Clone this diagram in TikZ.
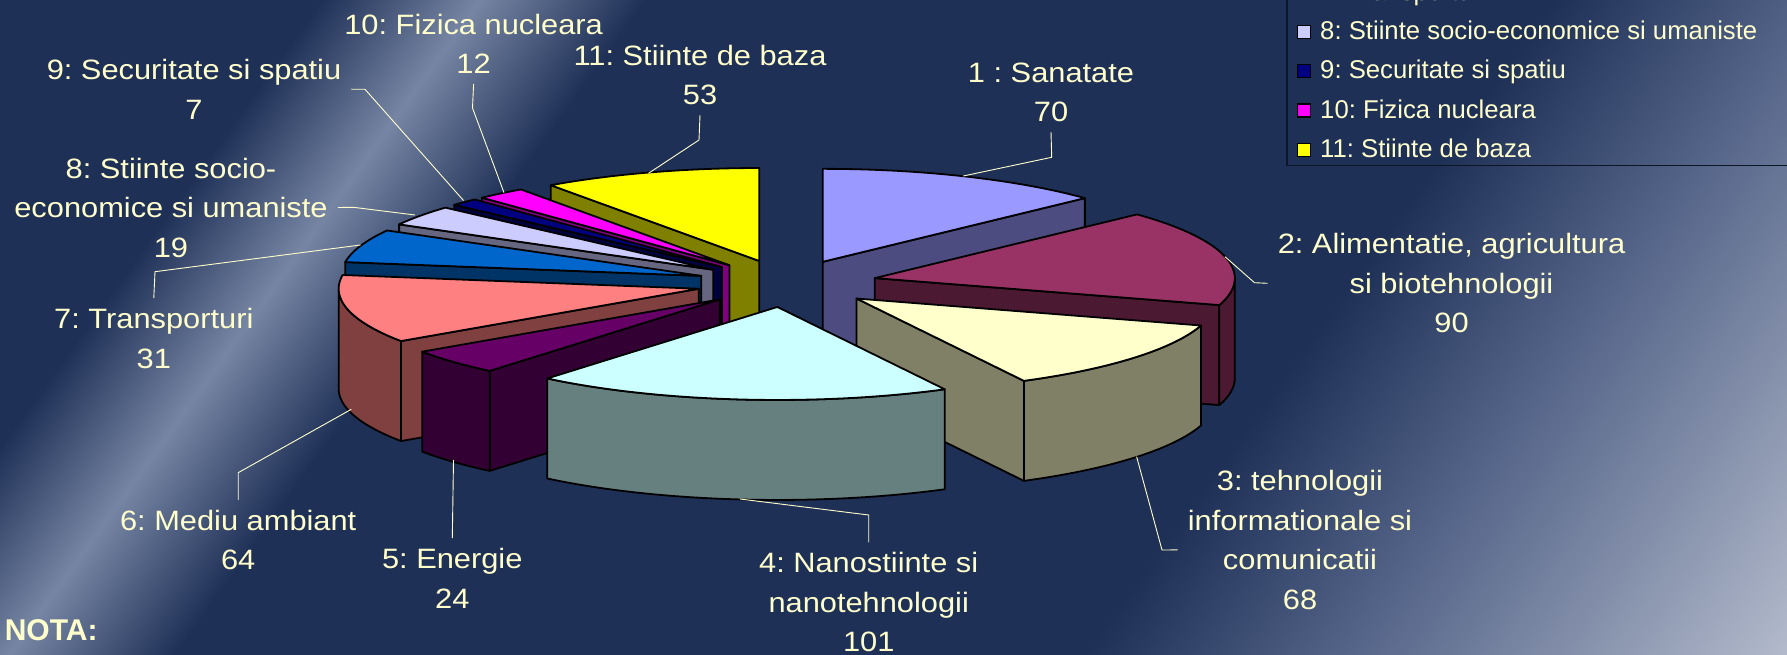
\documentclass[tikz,border=0pt]{standalone}
\usepackage{fontspec}
\setmainfont{Liberation Sans}
\newfontfamily\labelfont{Liberation Sans}[FakeStretch=1.1]
\usetikzlibrary{calc}
\frenchspacing

\definecolor{backblue}{HTML}{1F3057}
\definecolor{beam}{HTML}{7685A3}
\definecolor{glowmid}{HTML}{56668A}
\definecolor{glowend}{HTML}{B5BCCD}
\definecolor{labeltext}{HTML}{FFFFCC}
\definecolor{legendline}{HTML}{0E1526}
\definecolor{lavender}{HTML}{9999FF}
\definecolor{plum}{HTML}{993366}
\definecolor{ivory}{HTML}{FFFFCC}
\definecolor{paleturq}{HTML}{CCFFFF}
\definecolor{darkplum}{HTML}{660066}
\definecolor{salmon}{HTML}{FF8080}
\definecolor{ocean}{HTML}{0066CC}
\definecolor{periwinkle}{HTML}{CCCCFF}
\definecolor{navyblue}{HTML}{000080}
\definecolor{fuchsia}{HTML}{FF00FF}
\definecolor{lemon}{HTML}{FFFF00}

\pgfdeclarehorizontalshading{backlight}{100bp}{color(0bp)=(backblue); color(32.5bp)=(backblue); color(35.97bp)=(beam); color(39.6bp)=(backblue); color(59.41bp)=(backblue); color(65.32bp)=(glowmid); color(75bp)=(glowend); color(100bp)=(glowend)}

\tikzset{
  pieedge/.style={draw=black, line width=1.8pt, line join=round},
  leader/.style={draw=labeltext, line width=0.9pt},
  slicelabel/.style={text=labeltext, font=\labelfont\fontsize{28}{39.5}\selectfont, align=center, inner sep=10pt},
  legendtext/.style={text=labeltext, font=\fontsize{25.7}{30}\selectfont, anchor=base west, inner sep=0pt},
  legendkey/.style={draw=black, line width=1.2pt, minimum size=13pt, inner sep=0pt},
}

% one exploded slice: start angle, end angle, top colour, side colour
\newcommand{\pieslice}[4]{%
  \pgfmathsetmacro{\pmid}{(#1+#2)/2}
  \pgfmathsetmacro{\pcx}{786.8+90.4*cos(\pmid)}
  \pgfmathsetmacro{\pcy}{370.5+23.6*sin(\pmid)}
  %% side along the end angle
  \pgfmathsetmacro{\pvis}{cos(#2) < -0.01 ? 1 : 0}
  \ifdim\pvis pt>0.5pt
    \filldraw[pieedge, fill=#4] (\pcx,\pcy) -- ++({360*cos(#2)},{93*sin(#2)}) -- ++(0,-100) -- ({\pcx},{\pcy-100}) -- cycle;
  \fi
  %% side along the start angle
  \pgfmathsetmacro{\pvis}{cos(#1) > 0.01 ? 1 : 0}
  \ifdim\pvis pt>0.5pt
    \filldraw[pieedge, fill=#4] (\pcx,\pcy) -- ++({360*cos(#1)},{93*sin(#1)}) -- ++(0,-100) -- ({\pcx},{\pcy-100}) -- cycle;
  \fi
  %% outer wall, front half only
  \pgfmathsetmacro{\pfrom}{max(#1,-180)}
  \pgfmathsetmacro{\pto}{min(#2,0)}
  \ifdim\pfrom pt<\pto pt
    \filldraw[pieedge, fill=#4] plot[domain=\pfrom:\pto, samples=30] ({\pcx+360*cos(\x)},{\pcy+93*sin(\x)})
      -- plot[domain=\pto:\pfrom, samples=30] ({\pcx+360*cos(\x)},{\pcy-100+93*sin(\x)}) -- cycle;
  \fi
  %% top
  \filldraw[pieedge, fill=#3] (\pcx,\pcy) -- plot[domain=#1:#2, samples=40] ({\pcx+360*cos(\x)},{\pcy+93*sin(\x)}) -- cycle;
}

\begin{document}
\begin{tikzpicture}[x=1pt, y=1pt]
  \useasboundingbox (0,0) rectangle (1787,654);
  \clip (0,0) rectangle (1787,654);

  %% background with light beams
  \fill[backblue] (0,0) rectangle (1787,654);
  \begin{scope}[transform canvas={rotate=-35.7}]
    \shade[shading=backlight] (-400,-20) rectangle (1460,1600);
  \end{scope}

  %% pie, back slices first
  \foreach \lo/\hi/\topc/\sidec in {
    -270/-234.601/lemon/lemon!50!black,
    43.247/90/lavender/lavender!50!black,
    -234.601/-226.586/fuchsia/fuchsia!50!black,
    -226.586/-221.911/navyblue/navyblue!50!black,
    -221.911/-209.221/periwinkle/periwinkle!50!black,
    -209.221/-188.516/ocean/ocean!50!black,
    -16.865/43.247/plum/plum!50!black,
    -188.516/-145.770/salmon/salmon!50!black,
    -62.282/-16.865/ivory/ivory!50!black,
    -145.770/-129.740/darkplum/darkplum!50!black,
    -129.740/-62.282/paleturq/paleturq!50!black}
    {\pieslice{\lo}{\hi}{\topc}{\sidec}}

  %% legend
  \draw[legendline, line width=1.5pt] (1287,488.3) rectangle (1800,700);
  \foreach \row/\key/\txt in {0/ocean/7: Transporturi,
      1/periwinkle/8: Stiinte socio-economice si umaniste,
      2/navyblue/9: Securitate si spatiu,
      3/fuchsia/10: Fizica nucleara,
      4/lemon/11: Stiinte de baza}{
    \node[legendkey, fill=\key] (key\row) at ({1304.2},{661-39.2*\row}) {};
    \node[legendtext] (entry\row) at ({1320},{653.4-39.2*\row}) {\txt};
  }

  %% slice labels
  \node[slicelabel] (l1) at (1051,561.7) {1 : Sanatate\\70};
  \node[slicelabel] (l2) at (1451.5,370.7) {2: Alimentatie, agricultura\\si biotehnologii\\90};
  \node[slicelabel] (l3) at (1300,114.1) {3: tehnologii\\informationale si\\comunicatii\\68};
  \node[slicelabel] (l4) at (868.7,51.7) {4: Nanostiinte si\\nanotehnologii\\101};
  \node[slicelabel] (l5) at (452.3,75.7) {5: Energie\\24};
  \node[slicelabel] (l6) at (238.2,114) {6: Mediu ambiant\\64};
  \node[slicelabel] (l7) at (153.8,315.7) {7: Transporturi\\31};
  \node[slicelabel] (l8) at (171,446.5) {8: Stiinte socio-\\economice si umaniste\\19};
  \node[slicelabel] (l9) at (194,564.8) {9: Securitate si spatiu\\7};
  \node[slicelabel] (l10) at (473.6,610.3) {10: Fizica nucleara\\12};
  \node[slicelabel] (l11) at (700,579) {11: Stiinte de baza\\53};

  %% leader lines
  \coordinate (b1) at (1051.7,496.7);  \coordinate (t1) at (963.3,478);
  \coordinate (b2) at (1254.5,371.3);  \coordinate (t2) at (1225,397.3);
  \coordinate (b3) at (1162,104);      \coordinate (t3) at (1136.6,197.3);
  \coordinate (b4) at (868.7,139);     \coordinate (t4) at (740,155);
  \coordinate (t5) at (453.5,194);
  \coordinate (b6) at (238.2,181.3);   \coordinate (t6) at (351.3,244.7);
  \coordinate (b7) at (155,382.3);     \coordinate (t7) at (360.5,409);
  \coordinate (b8) at (353.3,446.7);   \coordinate (t8) at (415,439);
  \coordinate (b9) at (365,564.7);     \coordinate (t9) at (463.5,453.5);
  \coordinate (b10) at (472.5,546);    \coordinate (t10) at (504,461.3);
  \coordinate (b11) at (699,514);      \coordinate (t11) at (648.5,480.7);
  \draw[leader] (l1.south) -- (b1) -- (t1);
  \draw[leader] (l2.west) -- (b2) -- (t2);
  \draw[leader] ([yshift=-10pt]l3.west) -- (b3) -- (t3);
  \draw[leader] (l4.north) -- (b4) -- (t4);
  \draw[leader] (l5.north) -- (t5);
  \draw[leader] (l6.north) -- (b6) -- (t6);
  \draw[leader] (l7.north) -- (b7) -- (t7);
  \draw[leader] (l8.east) -- (b8) -- (t8);
  \draw[leader] (l9.east) -- (b9) -- (t9);
  \draw[leader] (l10.south) -- (b10) -- (t10);
  \draw[leader] (l11.south) -- (b11) -- (t11);

  \node[text=labeltext, font=\bfseries\fontsize{30}{36}\selectfont, anchor=west, inner sep=0pt] (nota) at (4.6,24) {NOTA:};
\end{tikzpicture}
\end{document}
